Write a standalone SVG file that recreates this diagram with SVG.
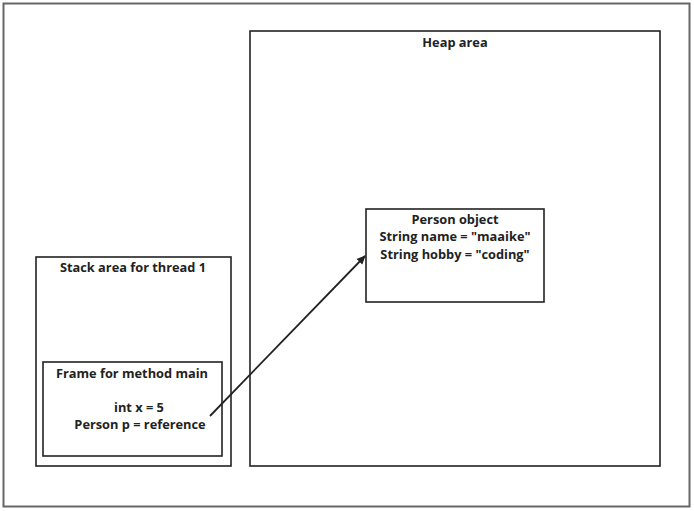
<svg xmlns="http://www.w3.org/2000/svg" width="694" height="511" viewBox="0 0 694 511">
<style>
.box{fill:#fff;stroke:#222;stroke-width:1.6}
.t{font-family:"Open Sans",sans-serif;font-weight:bold;font-size:12.8px;fill:#222;text-anchor:middle}
</style>
<defs>
<marker id="ah" markerWidth="10" markerHeight="10" refX="8" refY="5" orient="auto" markerUnits="userSpaceOnUse">
<path d="M0,1 L9,5 L0,9 z" fill="#222"/>
</marker>
</defs>
<rect x="0" y="0" width="694" height="511" fill="#fff"/>
<rect x="3.5" y="3.5" width="686" height="503" fill="#fff" stroke="#666" stroke-width="2"/>
<g id="heap">
<rect class="box" x="250" y="31" width="410" height="435"/>
<text class="t" x="455" y="47">Heap area</text>
</g>
<g id="stack">
<rect class="box" x="36" y="257" width="195" height="209"/>
<text class="t" x="133" y="272">Stack area for thread 1</text>
</g>
<g id="frame">
<rect class="box" x="43" y="362" width="179" height="94"/>
<text class="t" x="132" y="378">Frame for method main</text>
<text class="t" x="139" y="412">int x = 5</text>
<text class="t" x="140" y="429">Person p = reference</text>
</g>
<g id="person">
<rect class="box" x="366" y="209" width="178" height="93"/>
<text class="t" x="455" y="224">Person object</text>
<text class="t" x="455" y="241">String name = "maaike"</text>
<text class="t" x="455" y="259">String hobby = "coding"</text>
</g>
<g id="connectors">
<line x1="210" y1="416" x2="365" y2="256" stroke="#222" stroke-width="1.8" marker-end="url(#ah)"/>
</g>
</svg>
